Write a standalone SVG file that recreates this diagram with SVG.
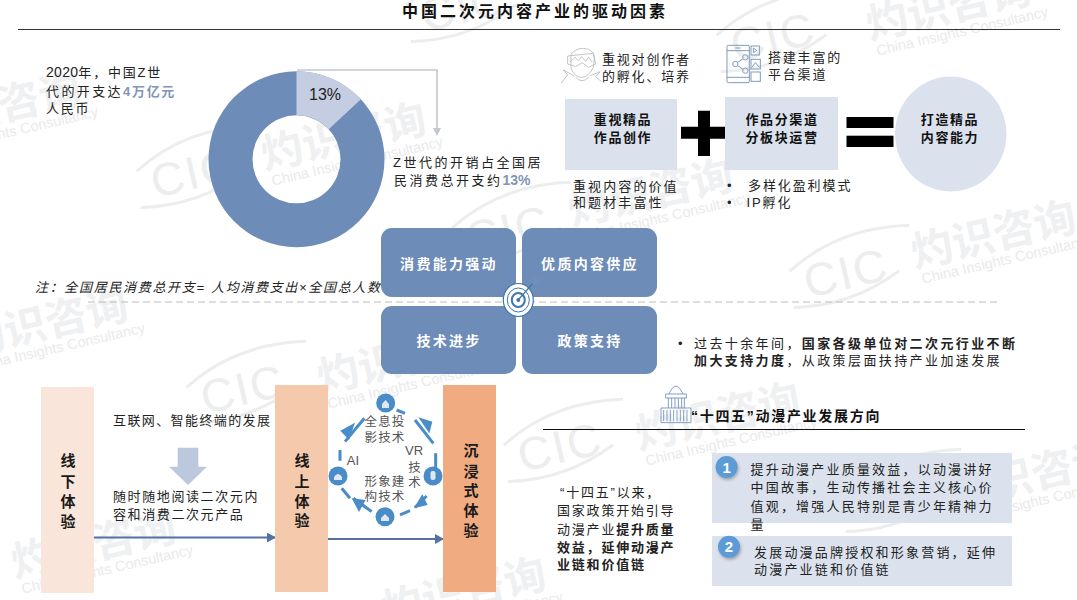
<svg xmlns="http://www.w3.org/2000/svg" width="1077" height="600" viewBox="0 0 1077 600">
<style>
text{font-family:"Liberation Sans","Noto Sans CJK SC",sans-serif;fill:#222}
.t{font-size:13px;letter-spacing:1.8px}
.b{font-weight:700;letter-spacing:1.6px;font-size:13px;fill:#111}
.m{text-anchor:middle}
.w{font-size:14px;font-weight:700;letter-spacing:2.3px;fill:#fff;text-anchor:middle}
.v{font-size:15px;font-weight:700;text-anchor:middle;fill:#1a1a1a}
.c{font-size:12.5px;letter-spacing:1.2px;fill:#555;text-anchor:middle}
.h{fill:#8394b5;font-weight:700}
.wm1{font-size:42px;font-weight:700;fill:#eff0f1}
.wm2{font-size:14.5px;fill:#e9eaec}
.wm3{font-size:46px;fill:#eceded;letter-spacing:2px}
.wma{fill:none;stroke:#eceded;stroke-width:3}
.pale{fill:#dbe2ee}
.blue{fill:#6d8cb8}
.ln{fill:none;stroke:#4a8cc7;stroke-width:9}
.ah{fill:#4a8cc7}
.nd{fill:#4a8cc7}
.ic{fill:none;stroke:#7f9bb8;stroke-width:3}
.ig{fill:none;stroke:#b3b6ba;stroke-width:2.4}
.ib{fill:none;stroke:#6f90bd;stroke-width:3}
</style>
<defs>
<marker id="arB" markerUnits="userSpaceOnUse" markerWidth="9" markerHeight="10" refX="8" refY="5" orient="auto"><path d="M0 0L9 5L0 10Z" fill="#5272a5"/></marker>
<marker id="arG" markerUnits="userSpaceOnUse" markerWidth="8" markerHeight="8" refX="7" refY="4" orient="auto"><path d="M0 0L8 4L0 8Z" fill="#c4c8d0"/></marker>
<filter id="sh" x="-40%" y="-40%" width="190%" height="190%"><feDropShadow dx="1" dy="2" stdDeviation="1.5" flood-color="#666" flood-opacity=".5"/></filter>
<g id="wm" transform="rotate(-13)"><text class="wm1">灼识咨询</text><text class="wm2" x="4" y="17">China Insights Consultancy</text></g>
<g id="logo" transform="rotate(-13)"><text class="wm3">CIC</text><path class="wma" d="M-12 -30Q45 -62 115 -48M-16 6Q40 18 95 -6"/></g>
</defs>
<rect width="1077" height="600" fill="#fff"/>
<g id="watermarks">
<use href="#wm" transform="translate(265 170)"/>
<use href="#wm" transform="translate(-80 140)"/>
<use href="#wm" transform="translate(870 40)"/>
<use href="#wm" transform="translate(572 226)"/>
<use href="#wm" transform="translate(915 268)"/>
<use href="#wm" transform="translate(-33 356)"/>
<use href="#wm" transform="translate(321 393)"/>
<use href="#wm" transform="translate(639 450)"/>
<use href="#wm" transform="translate(953 508)"/>
<use href="#wm" transform="translate(15 578)"/>
<use href="#wm" transform="translate(385 625)"/>
<use href="#logo" transform="translate(155 198)"/>
<use href="#logo" transform="translate(425 32)"/>
<use href="#logo" transform="translate(735 62)"/>
<use href="#logo" transform="translate(808 298)"/>
<use href="#logo" transform="translate(470 255)"/>
<use href="#logo" transform="translate(205 414)"/>
<use href="#logo" transform="translate(522 472)"/>
<use href="#logo" transform="translate(860 522)"/>
</g>
<g id="title"><text x="402" y="17" font-size="16" font-weight="700" letter-spacing="3" style="fill:#111">中国二次元内容产业的驱动因素</text></g>
<g id="rules">
<line x1="18" y1="29.5" x2="1060" y2="29.5" stroke="#333" stroke-width="1.2"/>
<line x1="88" y1="302" x2="1000" y2="302" stroke="#bcbcbc" stroke-width="1" stroke-dasharray="7 4"/>
<line x1="543" y1="429.5" x2="1025" y2="429.5" stroke="#111" stroke-width="1"/>
</g>
<g id="connectors">
<path d="M297 70H437V135" fill="none" stroke="#c4c8d0" stroke-width="1.6" marker-end="url(#arG)"/>
<line x1="94" y1="537.5" x2="275" y2="537.5" stroke="#5272a5" stroke-width="2" marker-end="url(#arB)"/>
<line x1="328" y1="539" x2="443" y2="539" stroke="#5272a5" stroke-width="2" marker-end="url(#arB)"/>
<path id="down-arrow" d="M177.7 447.7H198.3V466.7H207L188 485L169 466.7H177.7Z" fill="#bcc8de"/>
</g>
<g id="donut">
<path d="M296.500 71.300A88 88 0 1 1 296.500 247.300A88 88 0 1 1 296.500 71.300ZM296.500 115.300A44 44 0 1 0 296.500 203.300A44 44 0 1 0 296.500 115.300Z" class="blue" fill-rule="evenodd"/>
<path d="M296.500 71.300A88 88 0 0 1 360.900 99.300L328.700 129.300A44 44 0 0 0 296.500 115.300Z" fill="#c5cde3"/>
<text x="325" y="99.500" class="m" font-size="16">13%</text>
</g>
<g id="spend-note">
<text class="t" x="46" y="76.500"><tspan font-size="14" letter-spacing=".3">2020</tspan>年，中国Z世</text>
<text class="t" x="46" y="95.500" style="letter-spacing:2.4px">代的开支达<tspan class="h" style="letter-spacing:1.7px">4万亿元</tspan></text>
<text class="t" x="46" y="113">人民币</text>
</g>
<g id="share-note">
<text class="t" x="393" y="166.500" style="letter-spacing:2.5px">Z世代的开销占全国居</text>
<text class="t" x="394" y="184.500" style="letter-spacing:2.5px">民消费总开支约<tspan class="h" style="letter-spacing:0" font-size="14">13%</tspan></text>
</g>
<text id="footnote" x="35" y="291.500" font-size="13" font-style="italic" textLength="345">注：全国居民消费总开支= 人均消费支出×全国总人数</text>
<g id="driver-consume"><rect class="blue" x="381" y="228" width="135" height="69" rx="11"/><text class="w" x="449" y="269">消费能力强动</text></g>
<g id="driver-supply"><rect class="blue" x="522" y="228" width="135" height="69" rx="11"/><text class="w" x="590" y="269">优质内容供应</text></g>
<g id="driver-tech"><rect class="blue" x="381" y="306" width="135" height="68" rx="11"/><text class="w" x="449" y="346">技术进步</text></g>
<g id="driver-policy"><rect class="blue" x="522" y="306" width="135" height="68" rx="11"/><text class="w" x="590" y="346">政策支持</text></g>
<g id="target" fill="none" stroke="#3f76ad">
<ellipse cx="518.300" cy="300" rx="15" ry="16.500" fill="#fff" stroke-width="1.200"/>
<ellipse cx="518.300" cy="300" rx="11" ry="12" stroke-width="1"/>
<ellipse cx="518.300" cy="300" rx="6.500" ry="7" stroke-width="2"/>
<circle cx="518.300" cy="300" r="2" fill="#3f76ad" stroke="none"/>
<line x1="519" y1="299" x2="534" y2="282" stroke-width="1.200"/>
<path d="M532 283L533 276L536 279L541 278L539 283L534 285Z" fill="#6f90bd" stroke="none"/>
</g>
<g id="creator-icon" class="ig" transform="translate(555 40) scale(.3333)">
<path d="M48 42Q70 18 100 28Q118 35 118 55L115 82Q100 112 80 112Q58 112 48 84Z"/>
<path d="M38 48L115 40L122 72L100 82L82 68L62 80L38 72Z"/>
<path d="M45 66L60 52L70 62L80 50L92 64L100 52L112 66"/>
<path d="M58 108L25 90L38 105L18 130M104 108L135 95L122 110L140 125M62 112Q80 132 102 112"/>
</g>
<g id="phone-icon" class="ic" transform="translate(720 40) scale(.3333)">
<rect x="21" y="16" width="67" height="112" rx="4"/>
<path d="M21 32H88M21 112H88M46 24H62"/>
<circle cx="46" cy="72" r="8"/><circle cx="76" cy="52" r="8"/><circle cx="76" cy="92" r="8"/>
<path d="M53 67L69 56M53 77L69 88"/>
<rect x="93" y="18" width="25" height="27"/><rect x="93" y="58" width="28" height="29"/><rect x="93" y="96" width="28" height="28"/>
<path d="M100 24L110 31L100 38Z"/><path d="M96 82L106 68L118 82"/>
</g>
<g id="creator-note"><text class="t" x="602" y="63.500">重视对创作者</text><text class="t" x="602" y="80.500">的孵化、培养</text></g>
<g id="platform-note"><text class="t" x="768" y="61.500">搭建丰富的</text><text class="t" x="768" y="78.500">平台渠道</text></g>
<g id="quality-box"><rect class="pale" x="565" y="99" width="112" height="71"/><text class="b m" x="623" y="123.500">重视精品</text><text class="b m" x="623" y="141.500">作品创作</text></g>
<path id="plus" d="M698 110.700H710V126.700H725V138.700H710V156H698V138.700H681V126.700H698Z" fill="#000"/>
<g id="channel-box"><rect class="pale" x="725" y="97" width="113" height="73"/><text class="b m" x="782" y="123.500">作品分渠道</text><text class="b m" x="782" y="141.500">分板块运营</text></g>
<g id="equals" fill="#000"><rect x="846.500" y="117" width="47" height="11"/><rect x="846.500" y="135.700" width="47" height="11.300"/></g>
<g id="result-circle"><ellipse class="pale" cx="950.700" cy="134" rx="55.700" ry="57.500"/><text class="b m" x="950" y="123.500">打造精品</text><text class="b m" x="950" y="141.500">内容能力</text></g>
<g id="quality-note"><text class="t" x="573" y="190.500" style="letter-spacing:2.1px">重视内容的价值</text><text class="t" x="573" y="206.500" style="letter-spacing:2.1px">和题材丰富性</text></g>
<g id="channel-note"><text class="t" x="727" y="190">•</text><text class="t" x="748" y="190" style="letter-spacing:1.9px">多样化盈利模式</text><text class="t" x="727" y="206.500">•</text><text class="t" x="746.500" y="206.500" style="letter-spacing:1.9px">IP孵化</text></g>
<g id="policy-note">
<text class="t" x="678" y="347.500">•</text>
<text class="t" x="694" y="347.500" style="letter-spacing:2.4px">过去十余年间，<tspan font-weight="700">国家各级单位对二次元行业不断</tspan></text>
<text class="t" x="694" y="364.500" style="letter-spacing:2.4px"><tspan font-weight="700">加大支持力度</tspan>，从政策层面扶持产业加速发展</text>
</g>
<g id="offline-box"><rect x="41" y="387" width="53" height="206" fill="#f9e5d9"/><text class="v" x="68" y="466">线</text><text class="v" x="68" y="487">下</text><text class="v" x="68" y="507">体</text><text class="v" x="68" y="527">验</text></g>
<g id="online-box"><rect x="275" y="385" width="53" height="207" fill="#f5c9ab"/><text class="v" x="302" y="465.500">线</text><text class="v" x="302" y="486.500">上</text><text class="v" x="302" y="506.500">体</text><text class="v" x="302" y="525.500">验</text></g>
<g id="immersive-box"><rect x="443" y="385" width="53" height="207" fill="#f0ac80"/><text class="v" x="471" y="455.500">沉</text><text class="v" x="471" y="477">浸</text><text class="v" x="471" y="496">式</text><text class="v" x="471" y="516">体</text><text class="v" x="471" y="536">验</text></g>
<g id="internet-note">
<text class="t" x="113" y="424.500" style="letter-spacing:1.4px">互联网、智能终端的发展</text>
<text class="t" x="113" y="501" style="letter-spacing:1.6px">随时随地阅读二次元内</text>
<text class="t" x="113" y="518.500" style="letter-spacing:1.6px">容和消费二次元产品</text>
</g>
<g id="tech-cycle">
<g transform="translate(335 390) scale(.3333)">
<path class="ln" d="M185 60L210 70M240 90L295 160M302 190V235M275 318L240 352M195 375L225 362M110 365L55 325M20 295L45 325M15 180V212M30 155L88 85"/>
<path class="ah" d="M250 82L292 95L283 130Z"/><path class="ah" d="M262 312L278 345L237 355Z"/><path class="ah" d="M92 330L72 366L50 325Z"/><path class="ah" d="M16 122L60 98L42 150Z"/>
</g>
<g id="cycle-node-top"><circle class="nd" cx="385.700" cy="403" r="9.500"/><path d="M382 408v-4l3.500-4 3.500 4v4z" fill="#dfe8f2"/></g>
<g id="cycle-node-right"><circle class="nd" cx="433" cy="476" r="9.500"/><rect x="430.500" y="471" width="5" height="9" rx="2" fill="#dfe8f2"/></g>
<g id="cycle-node-bottom"><circle class="nd" cx="385" cy="516.700" r="9.500"/><path d="M381 521v-3l4-4 4 4v3z" fill="#dfe8f2"/></g>
<g id="cycle-node-left"><circle class="nd" cx="338" cy="476" r="9.500"/><path d="M334 480v-3q4-6 8 0v3z" fill="#dfe8f2"/></g>
<text class="c" x="385" y="426">全息投</text><text class="c" x="385" y="442">影技术</text>
<text class="c" x="353" y="465" style="font-size:13px;letter-spacing:0">AI</text>
<text class="c" x="414" y="455" style="font-size:13px;letter-spacing:0">VR</text>
<text class="c" x="415" y="471.500">技</text><text class="c" x="415" y="487">术</text>
<text class="c" x="385" y="485.500">形象建</text><text class="c" x="385" y="501">构技术</text>
</g>
<g id="building-icon" class="ib" transform="translate(655 380) scale(.3333)" style="stroke-width:2.6">
<path d="M42 42Q62 -5 84 42"/>
<path d="M32 42H94V54H32Z"/>
<path d="M40 54V84M50 54V84M60 54V84M70 54V84M80 54V84M88 54V84"/>
<path d="M18 84H108V128H18Z"/>
<path d="M26 90V124M36 90V124M46 90V124M56 90V124M66 90V124M76 90V124M86 90V124M96 90V124"/>
</g>
<text id="plan-title" x="691" y="421" font-size="14" font-weight="700" letter-spacing="1.700" style="fill:#111">“十四五”动漫产业发展方向</text>
<g id="plan-left">
<text class="t" x="560" y="496.500">“十四五”以来，</text>
<text class="t" x="557" y="514.500">国家政策开始引导</text>
<text class="t" x="557" y="533.500">动漫产业<tspan font-weight="700">提升质量</tspan></text>
<text class="t" x="557" y="551.500" font-weight="700">效益，延伸动漫产</text>
<text class="t" x="557" y="568.500" font-weight="700">业链和价值链</text>
</g>
<g id="plan-1"><rect class="pale" x="712" y="453" width="300" height="70"/><circle cx="726.600" cy="467" r="11" fill="#5b9bd5" filter="url(#sh)"/><text x="726.600" y="472.500" class="m" font-size="15" font-weight="700" style="fill:#fff">1</text>
<text class="t" x="750.500" y="473.500" style="letter-spacing:2.2px">提升动漫产业质量效益，以动漫讲好</text>
<text class="t" x="750.500" y="491.500" style="letter-spacing:2.2px">中国故事，生动传播社会主义核心价</text>
<text class="t" x="750.500" y="510.500" style="letter-spacing:2.2px">值观，增强人民特别是青少年精神力</text>
<text class="t" x="750.500" y="528.500">量</text></g>
<g id="plan-2"><rect class="pale" x="712" y="536" width="300" height="50"/><circle cx="729" cy="546.700" r="11" fill="#5b9bd5" filter="url(#sh)"/><text x="729" y="552" class="m" font-size="15" font-weight="700" style="fill:#fff">2</text>
<text class="t" x="754" y="556.500" style="letter-spacing:2.2px">发展动漫品牌授权和形象营销，延伸</text>
<text class="t" x="754" y="573.500" style="letter-spacing:2.2px">动漫产业链和价值链</text></g>
</svg>
